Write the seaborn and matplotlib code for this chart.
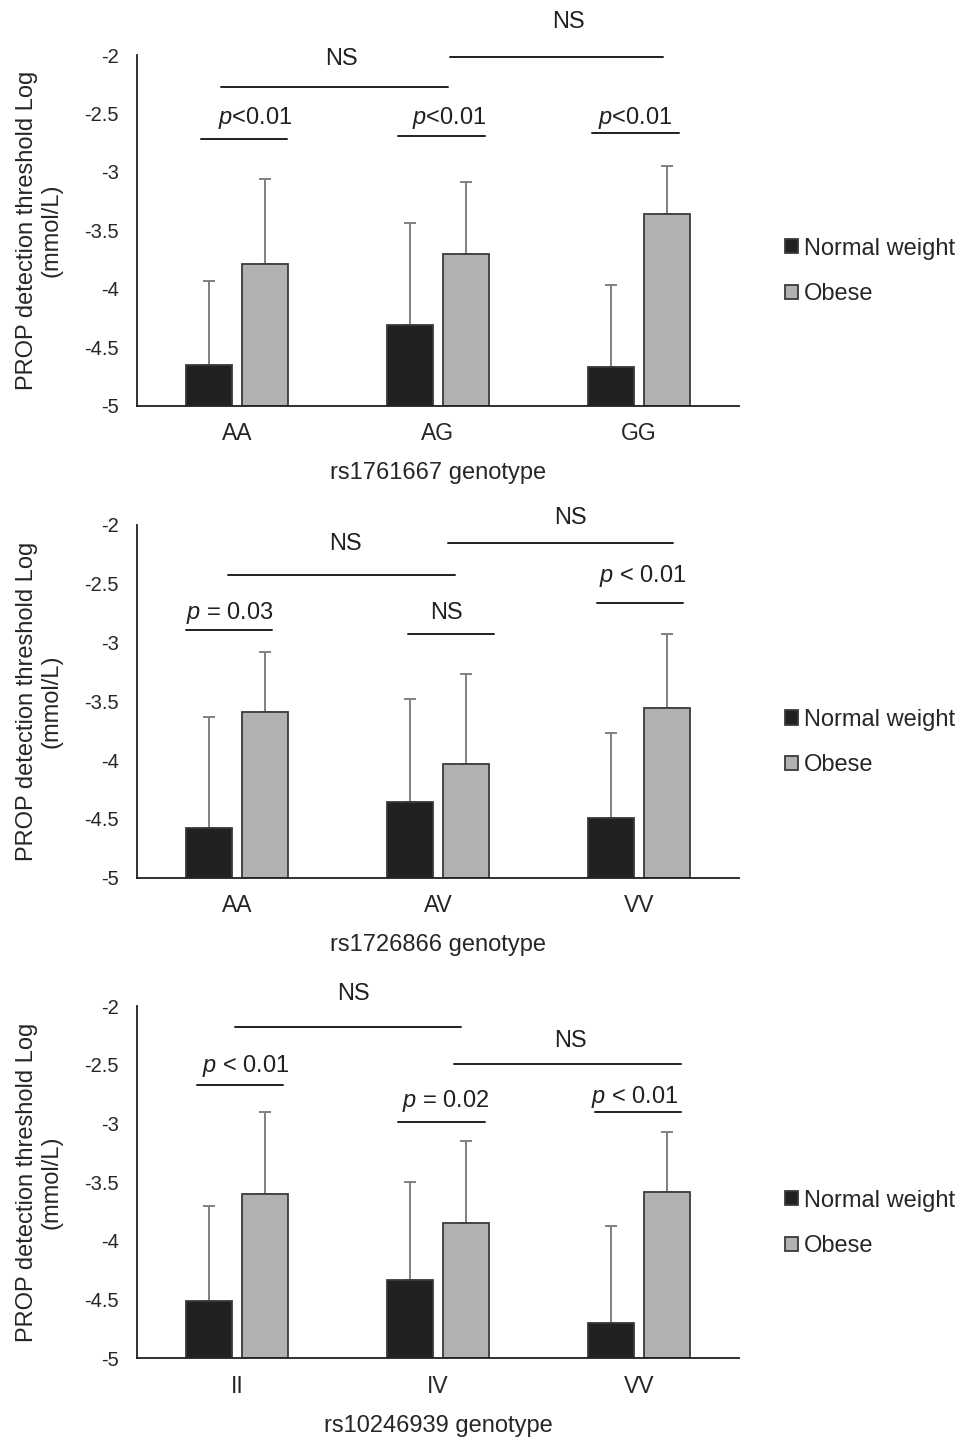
import matplotlib
matplotlib.use("Agg")
import matplotlib.pyplot as plt
import pandas as pd
import seaborn as sns

sns.set_style("white")
plt.rcParams["font.family"] = ["Liberation Sans", "DejaVu Sans"]
plt.rcParams["mathtext.fontset"] = "custom"
plt.rcParams["mathtext.it"] = "Liberation Sans:italic"
plt.rcParams["mathtext.rm"] = "Liberation Sans"
plt.rcParams["axes.unicode_minus"] = False

groups = ["Normal weight", "Obese"]

# panel 1: rs1761667
genotypes_1 = ["AA", "AG", "GG"]
normal_1 = [-4.65, -4.31, -4.67]
normal_err_1 = [0.72, 0.87, 0.70]
obese_1 = [-3.79, -3.70, -3.36]
obese_err_1 = [0.73, 0.61, 0.41]
# (x0, x1, line y, label, text x, text y)
notes_1 = [
    (-0.08, 1.05, -2.27, "NS", 0.52, -2.03),
    (1.06, 2.12, -2.015, "NS", 1.65, -1.72),
    (-0.18, 0.25, -2.715, "$p$<0.01", 0.09, -2.54),
    (0.80, 1.235, -2.69, "$p$<0.01", 1.055, -2.54),
    (1.765, 2.20, -2.665, "$p$<0.01", 1.985, -2.54),
]

# panel 2: rs1726866
genotypes_2 = ["AA", "AV", "VV"]
normal_2 = [-4.58, -4.36, -4.49]
normal_err_2 = [0.95, 0.88, 0.72]
obese_2 = [-3.59, -4.03, -3.56]
obese_err_2 = [0.51, 0.76, 0.63]
notes_2 = [
    (-0.045, 1.085, -2.425, "NS", 0.54, -2.165),
    (1.05, 2.17, -2.15, "NS", 1.66, -1.945),
    (-0.255, 0.175, -2.89, "$p$ = 0.03", -0.035, -2.75),
    (0.85, 1.28, -2.925, "NS", 1.04, -2.75),
    (1.79, 2.22, -2.66, "$p$ < 0.01", 2.02, -2.435),
]

# panel 3: rs10246939
genotypes_3 = ["II", "IV", "VV"]
normal_3 = [-4.51, -4.33, -4.70]
normal_err_3 = [0.81, 0.83, 0.83]
obese_3 = [-3.60, -3.85, -3.58]
obese_err_3 = [0.70, 0.70, 0.51]
notes_3 = [
    (-0.01, 1.115, -2.18, "NS", 0.58, -1.9),
    (1.08, 2.21, -2.49, "NS", 1.66, -2.30),
    (-0.20, 0.23, -2.67, "$p$ < 0.01", 0.04, -2.51),
    (0.80, 1.235, -2.985, "$p$ = 0.02", 1.04, -2.81),
    (1.78, 2.21, -2.90, "$p$ < 0.01", 1.98, -2.775),
]

panels = [
    ("rs1761667 genotype", genotypes_1, normal_1, normal_err_1, obese_1, obese_err_1, notes_1),
    ("rs1726866 genotype", genotypes_2, normal_2, normal_err_2, obese_2, obese_err_2, notes_2),
    ("rs10246939 genotype", genotypes_3, normal_3, normal_err_3, obese_3, obese_err_3, notes_3),
]

palette = {"Normal weight": "#231f20", "Obese": "#aeb1b3"}
ink = "#231f20"
floor = -5

fig = plt.figure(figsize=(9.64, 14.37), dpi=100)
boxes = [
    [0.1421, 0.7177, 0.6245, 0.2440],
    [0.1421, 0.3892, 0.6245, 0.2455],
    [0.1421, 0.0548, 0.6245, 0.2451],
]

for box, (xlabel, genos, normal, normal_err, obese, obese_err, notes) in zip(boxes, panels):
    ax = fig.add_axes(box)
    df = pd.DataFrame({
        "genotype": genos * 2,
        "group": [groups[0]] * len(genos) + [groups[1]] * len(genos),
        "value": normal + obese,
    })
    sns.barplot(data=df, x="genotype", y="value", hue="group", hue_order=groups,
                palette=palette, width=0.56, gap=0.18, edgecolor="#3a3a3a",
                linewidth=1.3, errorbar=None, legend=False, ax=ax)

    # bars start at the axis floor (-5), with upward error bars
    for cont, errs in zip(ax.containers, [normal_err, obese_err]):
        xs, tops = [], []
        for bar in cont:
            top = bar.get_y() + bar.get_height()
            bar.set_y(floor)
            bar.set_height(top - floor)
            xs.append(bar.get_x() + bar.get_width() / 2)
            tops.append(top)
        ax.errorbar(xs, tops, yerr=[[0] * len(errs), errs], fmt="none",
                    ecolor="#808080", elinewidth=1.4, capsize=4.3, capthick=1.4,
                    zorder=0.9)

    ax.set_ylim(-5, -2)
    ax.set_xlim(-0.5, 2.5)
    ticks = [-5, -4.5, -4, -3.5, -3, -2.5, -2]
    ax.set_yticks(ticks)
    ax.set_yticklabels([f"{t:g}" for t in ticks], fontsize=14.5)
    ax.tick_params(axis="y", length=4.3, width=1.2, color=ink, direction="out", pad=9)
    ax.tick_params(axis="x", length=0, labelsize=16.5, pad=12)
    for side in ["top", "right"]:
        ax.spines[side].set_visible(False)
    for side in ["left", "bottom"]:
        ax.spines[side].set_color(ink)
        ax.spines[side].set_linewidth(1.3)

    ax.set_xlabel(xlabel, fontsize=17, labelpad=12)
    ax.set_ylabel("PROP detection threshold Log\n(mmol/L)", fontsize=17, linespacing=1.15)
    ax.yaxis.set_label_coords(-0.123, 0.5)

    for x0, x1, y, label, xt, yt in notes:
        ax.plot([x0, x1], [y, y], color=ink, lw=1.4, clip_on=False)
        ax.text(xt, yt, label, ha="center", va="center", fontsize=17, color=ink)

    handles = [c[0] for c in ax.containers[:2]]
    ax.legend(handles, groups, loc="center left", bbox_to_anchor=(1.076, 0.383),
              frameon=False, fontsize=17, handlelength=0.55, handleheight=0.55,
              handletextpad=0.25, labelspacing=1.0, borderpad=0, borderaxespad=0)

fig.savefig("out.png", dpi=100)
